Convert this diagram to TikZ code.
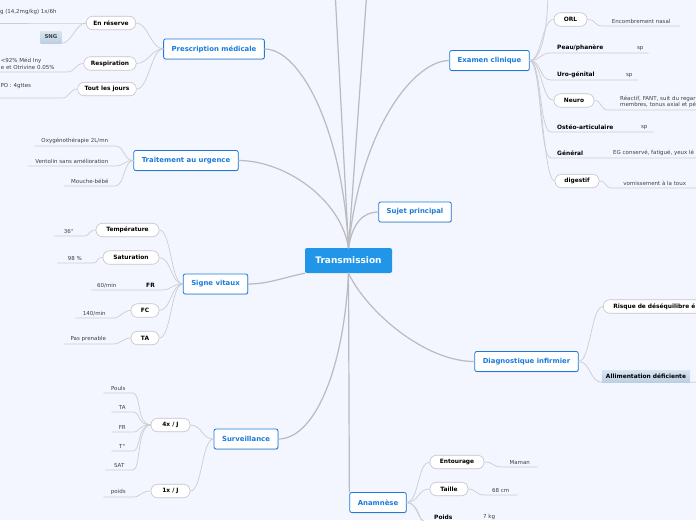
\documentclass[tikz,border=0pt]{standalone}
\usepackage{fontspec}
\setmainfont{DejaVu Sans}
\usetikzlibrary{shadows}
\definecolor{sfondo}{RGB}{243,246,254}
\definecolor{bluradice}{RGB}{33,150,232}
\definecolor{bluramo}{RGB}{27,122,218}
\definecolor{grigiofilo}{RGB}{186,186,192}
\definecolor{grigiochiaro}{RGB}{204,204,212}
\definecolor{bordopill}{RGB}{196,196,206}
\definecolor{testofoglia}{RGB}{64,64,68}
\definecolor{evidalto}{RGB}{216,229,242}
\definecolor{evidbasso}{RGB}{188,207,226}

\begin{document}
\begin{tikzpicture}[line cap=round, x=1pt, y=-1pt,
    radice/.style={fill=bluradice, text=white, rounded corners=2pt,
      minimum width=87pt, minimum height=25pt, font=\fontsize{9}{11}\selectfont\bfseries},
    ramo/.style={draw=bluramo, fill=white, text=bluramo, line width=0.8pt,
      rounded corners=2pt, minimum height=20pt, inner xsep=8pt,
      font=\fontsize{6.9}{8}\selectfont\bfseries,
      drop shadow={shadow xshift=0.6pt, shadow yshift=-0.8pt, opacity=0.25}},
    pillola/.style={draw=bordopill, fill=white, line width=0.6pt, rounded corners=6.5pt,
      minimum height=13.5pt, minimum width=28pt, inner xsep=7pt, inner ysep=0pt,
      font=\fontsize{5.9}{7}\selectfont\bfseries},
    piano/.style={anchor=south west, inner xsep=6pt, inner ysep=2pt,
      font=\fontsize{5.9}{7}\selectfont\bfseries},
    foglia/.style={text=testofoglia, inner xsep=4pt, inner ysep=2pt,
      font=\fontsize{5.5}{7}\selectfont},
    evidenza/.style={top color=evidalto, bottom color=evidbasso, inner xsep=4pt, inner ysep=1pt},
    filo/.style={draw=grigiochiaro, line width=0.7pt},
    filoradice/.style={draw=grigiofilo, line width=1.2pt}]
  \useasboundingbox (0,0) rectangle (696,520);
  \fill[sfondo] (0,0) rectangle (696,520);
  \clip (0,0) rectangle (696,520);

  % nodo centrale
  \node[radice] (transm) at (348.5,260.5) {Transmission};

  % rami principali
  \node[ramo] (presc) at (214,49) {Prescription médicale};
  \node[ramo] (urg) at (186,160.5) {Traitement au urgence};
  \node[ramo] (signe) at (215.5,284) {Signe vitaux};
  \node[ramo] (surv) at (246,439) {Surveillance};
  \node[ramo] (sujet) at (415,212) {Sujet principal};
  \node[ramo] (exam) at (489.5,60.5) {Examen clinique};
  \node[ramo] (diag) at (526.5,361.5) {Diagnostique infirmier};
  \node[ramo] (anam) at (378,502.5) {Anamnèse};
  \coordinate (alto1) at (335,-10);
  \coordinate (alto2) at (367,-10);

  % collegamenti dal centro
  \draw[filoradice] (transm.north) -- (alto1);
  \draw[filoradice] (transm.north) -- (alto2);
  \draw[filoradice] (transm.north) .. controls +(-6,-120) and +(35,0) .. (presc.east);
  \draw[filoradice] (transm.north) .. controls +(-8,-50) and +(45,0) .. (urg.east);
  \draw[filoradice] (transm.south west) .. controls +(-20,4) and +(20,0) .. (signe.east);
  \draw[filoradice] (transm.south) .. controls +(-5,100) and +(35,0) .. (surv.east);
  \draw[filoradice] (transm.south) -- (anam.north west);
  \draw[filoradice] (transm.south) .. controls +(18,38) and +(-50,0) .. (diag.west);
  \draw[filoradice] (transm.north) .. controls +(4,-25) and +(-15,0) .. (sujet.west);
  \draw[filoradice] (transm.north) .. controls +(12,-120) and +(-35,0) .. (exam.west);

  % Prescription médicale
  \node[pillola] (riserva) at (111,23) {En réserve};
  \node[pillola] (resp) at (110,63.5) {Respiration};
  \node[pillola] (tuttigiorni) at (107,89) {Tout les jours};
  \node[foglia, anchor=south east, minimum width=87pt, text depth=7pt] (dose) at (72,23) {g (14,2mg/kg) 1x/6h};
  \node[evidenza, minimum width=20pt, minimum height=12pt, text=testofoglia,
    font=\fontsize{5.4}{7}\selectfont\bfseries] (sng) at (51,37) {SNG};
  \node[foglia, anchor=south east, text width=62pt, align=left] (inhal) at (67,72) {<92\% Méd Iny\\e et Otrivine 0.05\%};
  \node[foglia, anchor=south east, minimum width=92pt, text depth=8pt] (gouttes) at (62,98) {PO : 4gttes};
  \draw[filo] (presc.west) .. controls +(-12,0) and +(12,0) .. (riserva.east);
  \draw[filo] (presc.west) .. controls +(-12,0) and +(12,0) .. (resp.east);
  \draw[filo] (presc.west) .. controls +(-12,0) and +(12,0) .. (tuttigiorni.east);
  \draw[filo] (riserva.west) .. controls +(-8,0) and +(8,0) .. (dose.south east) -- (dose.south west);
  \draw[filo] (riserva.west) .. controls +(-10,0) and +(10,0) .. (sng.south east);
  \draw[filo] (resp.west) .. controls +(-8,0) and +(8,0) .. (inhal.south east) -- (inhal.south west);
  \draw[filo] (tuttigiorni.west) .. controls +(-8,0) and +(8,0) .. (gouttes.south east) -- (gouttes.south west);

  % Traitement au urgence
  \node[foglia, anchor=south east, minimum width=80pt] (oxy) at (115,146) {Oxygénothérapie 2L/mn};
  \node[foglia, anchor=south east, minimum width=86pt] (ventolin) at (115,166) {Ventolin sans amélioration};
  \node[foglia, anchor=south east, minimum width=50pt] (mouche) at (115,186) {Mouche-bébé};
  \draw[filo] (urg.west) .. controls +(-10,0) and +(10,0) .. (oxy.south east) -- (oxy.south west);
  \draw[filo] (urg.west) .. controls +(-10,0) and +(10,0) .. (ventolin.south east) -- (ventolin.south west);
  \draw[filo] (urg.west) .. controls +(-10,0) and +(10,0) .. (mouche.south east) -- (mouche.south west);

  % Signe vitaux
  \node[pillola, minimum width=63pt] (temp) at (127.5,230) {Température};
  \node[pillola, minimum width=56pt] (satur) at (131,257.5) {Saturation};
  \node[piano, anchor=south east] (fr) at (161,290) {FR};
  \node[pillola] (fc) at (145,310.5) {FC};
  \node[pillola] (ta) at (145,338) {TA};
  \node[foglia, anchor=south east, minimum width=28pt] (t36) at (83,236) {36°};
  \node[foglia, anchor=south east, minimum width=34pt] (s98) at (92,263) {98 \%};
  \node[foglia, anchor=south east, minimum width=30pt] (fr60) at (122,290) {60/min};
  \node[foglia, anchor=south east, minimum width=37pt] (fc140) at (113,318) {140/min};
  \node[foglia, anchor=south east, minimum width=49pt] (tapas) at (113,344) {Pas prenable};
  \draw[filo] (signe.west) .. controls +(-12,0) and +(12,0) .. (temp.east);
  \draw[filo] (signe.west) .. controls +(-12,0) and +(12,0) .. (satur.east);
  \draw[filo] (signe.west) .. controls +(-12,0) and +(12,0) .. (fr.south east) -- (fr.south west) -- (fr60.south east) -- (fr60.south west);
  \draw[filo] (signe.west) .. controls +(-12,0) and +(12,0) .. (fc.east);
  \draw[filo] (signe.west) .. controls +(-12,0) and +(12,0) .. (ta.east);
  \draw[filo] (temp.west) .. controls +(-8,0) and +(8,0) .. (t36.south east) -- (t36.south west);
  \draw[filo] (satur.west) .. controls +(-8,0) and +(8,0) .. (s98.south east) -- (s98.south west);
  \draw[filo] (fc.west) .. controls +(-8,0) and +(8,0) .. (fc140.south east) -- (fc140.south west);
  \draw[filo] (ta.west) .. controls +(-8,0) and +(8,0) .. (tapas.south east) -- (tapas.south west);

  % Surveillance
  \node[pillola, minimum width=39pt] (quattro) at (170.5,425) {4x / J};
  \node[pillola, minimum width=39pt] (uno) at (170.5,491) {1x / J};
  \node[foglia, anchor=south east, minimum width=29pt] (pouls) at (133,393) {Pouls};
  \node[foglia, anchor=south east, minimum width=21pt] (sta) at (133,412) {TA};
  \node[foglia, anchor=south east, minimum width=21pt] (sfr) at (133,432) {FR};
  \node[foglia, anchor=south east, minimum width=21pt] (stemp) at (133,451) {T°};
  \node[foglia, anchor=south east, minimum width=27pt] (ssat) at (133,470) {SAT};
  \node[foglia, anchor=south east, minimum width=29pt] (spoids) at (133,497) {poids};
  \draw[filo] (surv.west) .. controls +(-12,0) and +(12,0) .. (quattro.east);
  \draw[filo] (surv.west) .. controls +(-12,0) and +(12,0) .. (uno.east);
  \draw[filo] (quattro.west) .. controls +(-14,0) and +(8,0) .. (pouls.south east) -- (pouls.south west);
  \draw[filo] (quattro.west) .. controls +(-14,0) and +(8,0) .. (sta.south east) -- (sta.south west);
  \draw[filo] (quattro.west) .. controls +(-14,0) and +(8,0) .. (sfr.south east) -- (sfr.south west);
  \draw[filo] (quattro.west) .. controls +(-14,0) and +(8,0) .. (stemp.south east) -- (stemp.south west);
  \draw[filo] (quattro.west) .. controls +(-14,0) and +(8,0) .. (ssat.south east) -- (ssat.south west);
  \draw[filo] (uno.west) .. controls +(-10,0) and +(8,0) .. (spoids.south east) -- (spoids.south west);

  % Examen clinique
  \node[pillola, minimum width=33pt] (orl) at (570.5,19.5) {ORL};
  \node[piano] (peau) at (551,53) {Peau/phanère};
  \node[piano] (uro) at (551,80) {Uro-génital};
  \node[pillola, minimum width=40pt] (neuro) at (574,100.5) {Neuro};
  \node[piano] (osteo) at (551,132) {Ostéo-articulaire};
  \node[piano] (general) at (551,158) {Général};
  \node[pillola, minimum width=44pt] (digestif) at (577,181) {digestif};
  \coordinate (examsu) at (548,-12);
  \node[foglia, anchor=south west, minimum width=76pt] (nasal) at (603,26) {Encombrement nasal};
  \node[foglia, anchor=south west, minimum width=16pt] (peausp) at (632,53) {sp};
  \node[foglia, anchor=south west, minimum width=16pt] (urosp) at (621,80) {sp};
  \node[foglia, anchor=south west, inner xsep=12pt, text width=150pt, align=left,
    font=\fontsize{5.5}{6.5}\selectfont] (neurov) at (608,110) {Réactif, FANT, suit du regar\\membres, tonus axial et pé};
  \node[foglia, anchor=south west, minimum width=18pt] (osteosp) at (635,132) {sp};
  \node[foglia, anchor=south west] (generalv) at (609,158) {EG conservé, fatigué, yeux lé};
  \node[foglia, anchor=south west, minimum width=85pt] (vomi) at (612,188) {vomissement à la toux};
  \draw[filo] (exam.east) .. controls +(12,0) and +(0,40) .. (examsu);
  \draw[filo] (exam.east) .. controls +(12,0) and +(-12,0) .. (orl.west);
  \draw[filo] (exam.east) .. controls +(12,0) and +(-12,0) .. (peau.south west) -- (peau.south east) -- (peausp.south west) -- (peausp.south east);
  \draw[filo] (exam.east) .. controls +(12,0) and +(-12,0) .. (uro.south west) -- (uro.south east) -- (urosp.south west) -- (urosp.south east);
  \draw[filo] (exam.east) .. controls +(12,0) and +(-12,0) .. (neuro.west);
  \draw[filo] (exam.east) .. controls +(12,0) and +(-12,0) .. (osteo.south west) -- (osteo.south east) -- (osteosp.south west) -- (osteosp.south east);
  \draw[filo] (exam.east) .. controls +(12,0) and +(-12,0) .. (general.south west) -- (general.south east) -- (generalv.south west) -- (generalv.south east);
  \draw[filo] (exam.east) .. controls +(12,0) and +(-12,0) .. (digestif.west);
  \draw[filo] (orl.east) .. controls +(10,0) and +(-10,0) .. (nasal.south west) -- (nasal.south east);
  \draw[filo] (neuro.east) .. controls +(8,0) and +(-8,0) .. (neurov.south west) -- (neurov.south east);
  \draw[filo] (digestif.east) .. controls +(8,0) and +(-8,0) .. (vomi.south west) -- (vomi.south east);

  % Diagnostique infirmier
  \node[pillola, anchor=west, text width=120pt, align=left, inner xsep=10pt] (risque) at (603,306.5) {Risque de déséquilibre é};
  \node[evidenza, minimum width=86pt, minimum height=12pt,
    font=\fontsize{5.9}{7}\selectfont\bfseries] (alim) at (646,376) {Allimentation déficiente};
  \coordinate (alimdx) at (710,382);
  \draw[filo] (diag.east) .. controls +(12,0) and +(-12,0) .. (risque.west);
  \draw[filo] (diag.east) .. controls +(12,0) and +(-12,0) .. (alim.south west);
  \draw[filo] (alim.south east) -- (alimdx);

  % Anamnèse
  \node[pillola, minimum width=54pt] (entourage) at (457,462) {Entourage};
  \node[pillola, minimum width=38pt] (taille) at (449,489) {Taille};
  \node[piano] (apoids) at (428,522) {Poids};
  \coordinate (anamgiu) at (424,545);
  \node[foglia, anchor=south west, minimum width=35pt] (maman) at (502,467) {Maman};
  \node[foglia, anchor=south west, minimum width=33pt] (cm) at (484,495) {68 cm};
  \node[foglia, anchor=south west, minimum width=22pt] (kg) at (478,522) {7 kg};
  \draw[filo] (anam.east) .. controls +(12,0) and +(-12,0) .. (entourage.west);
  \draw[filo] (anam.east) .. controls +(12,0) and +(-12,0) .. (taille.west);
  \draw[filo] (anam.east) .. controls +(12,0) and +(-12,0) .. (apoids.south west) -- (apoids.south east) -- (kg.south west) -- (kg.south east);
  \draw[filo] (anam.east) .. controls +(12,0) and +(0,-20) .. (anamgiu);
  \draw[filo] (entourage.east) .. controls +(10,0) and +(-10,0) .. (maman.south west) -- (maman.south east);
  \draw[filo] (taille.east) .. controls +(8,0) and +(-8,0) .. (cm.south west) -- (cm.south east);
\end{tikzpicture}
\end{document}
